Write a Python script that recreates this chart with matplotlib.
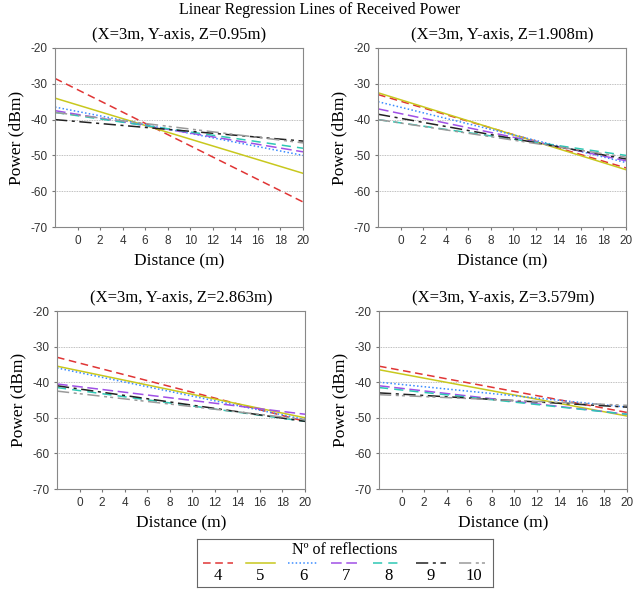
import matplotlib
matplotlib.use('Agg')
import matplotlib.pyplot as plt

plt.rcParams['axes.unicode_minus'] = False

# regression line ends, read at x=-2 and x=20
x_ends = [-2, 20]
reflections = ['4', '5', '6', '7', '8', '9', '10']
heights = ['Z=0.95m', 'Z=1.908m', 'Z=2.863m', 'Z=3.579m']

z095 = [[-28.5, -63], [-34, -55], [-36.5, -50], [-37.5, -49],
        [-38, -48], [-40, -46], [-38, -46.5]]
z1908 = [[-33, -53.5], [-32.5, -54], [-35, -52], [-37, -51.5],
         [-40, -50], [-38.5, -51], [-40, -50.5]]
z2863 = [[-33, -51], [-35.5, -50], [-36, -50.5], [-40.5, -49],
         [-41.5, -51], [-41, -51], [-42.5, -50.5]]
z3579 = [[-35.5, -48.5], [-36.5, -49.5], [-40, -47], [-41, -49],
         [-41.5, -49], [-43, -47], [-43.5, -46.5]]
panels = [z095, z1908, z2863, z3579]

colors = ['#e03535', '#c8c81e', '#3a8cff', '#a050e6', '#2ec8b4', '#222222', '#9a9a9a']
styles = [(0, (5, 3)), '-', (0, (1, 1.5)), (0, (7, 3)), (0, (6, 4)),
          (0, (8, 3, 2, 3)), (0, (8, 3, 2, 2, 2, 3))]

serif = 'Liberation Serif'
sans = 'Liberation Sans'

fig = plt.figure(figsize=(6.4, 5.9), dpi=100)
W, H = 640, 590
boxes = [(55, 48, 303, 227), (378, 48, 626, 227),
         (57, 311, 305, 489), (379, 311, 627, 489)]

fig.text(320 / W, 1 - 10 / H, 'Linear Regression Lines of Received Power',
         family=serif, fontsize=11.5, ha='center', va='center')

for k, (l, t, r, b) in enumerate(boxes):
    ax = fig.add_axes([l / W, 1 - b / H, (r - l) / W, (b - t) / H])
    for i, ys in enumerate(panels[k]):
        ax.plot(x_ends, ys, color=colors[i], linestyle=styles[i], lw=1.1)
    ax.set_xlim(-2, 20)
    ax.set_ylim(-70, -20)
    ax.set_xticks(range(0, 21, 2))
    ax.set_yticks(range(-70, -19, 10))
    ax.grid(axis='y', color='#aaaaaa', linestyle=(0, (1, 1)), lw=0.6)
    ax.tick_params(labelsize=8.5, colors='#777777', length=2, labelcolor='#333333')
    for lab in ax.get_xticklabels() + ax.get_yticklabels():
        lab.set_family(sans)
    for s in ax.spines.values():
        s.set_color('#888888')
    ax.set_xlabel('Distance (m)', family=serif, fontsize=12.5, labelpad=5)
    ax.set_ylabel('Power (dBm)', family=serif, fontsize=12.5)
    ax.set_title('(X=3m, Y-axis, ' + heights[k] + ')', family=serif,
                 fontsize=12, pad=6)

# legend box
lax = fig.add_axes([197 / W, 1 - 587 / H, (493 - 197) / W, (587 - 539) / H])
lax.set_xlim(0, 1)
lax.set_ylim(0, 1)
lax.set_xticks([])
lax.set_yticks([])
for s in lax.spines.values():
    s.set_color('#666666')
lax.text(0.5, 0.77, 'N\u00ba of reflections', family=serif, fontsize=11.5,
         ha='center', va='center')
for i, name in enumerate(reflections):
    cx = 0.07 + i * 0.144
    lax.plot([cx - 0.05, cx + 0.05], [0.5, 0.5], color=colors[i],
             linestyle=styles[i], lw=1.1)
    lax.text(cx, 0.22, name, family=serif, fontsize=12, ha='center', va='center')

fig.savefig('out.png', dpi=100)
